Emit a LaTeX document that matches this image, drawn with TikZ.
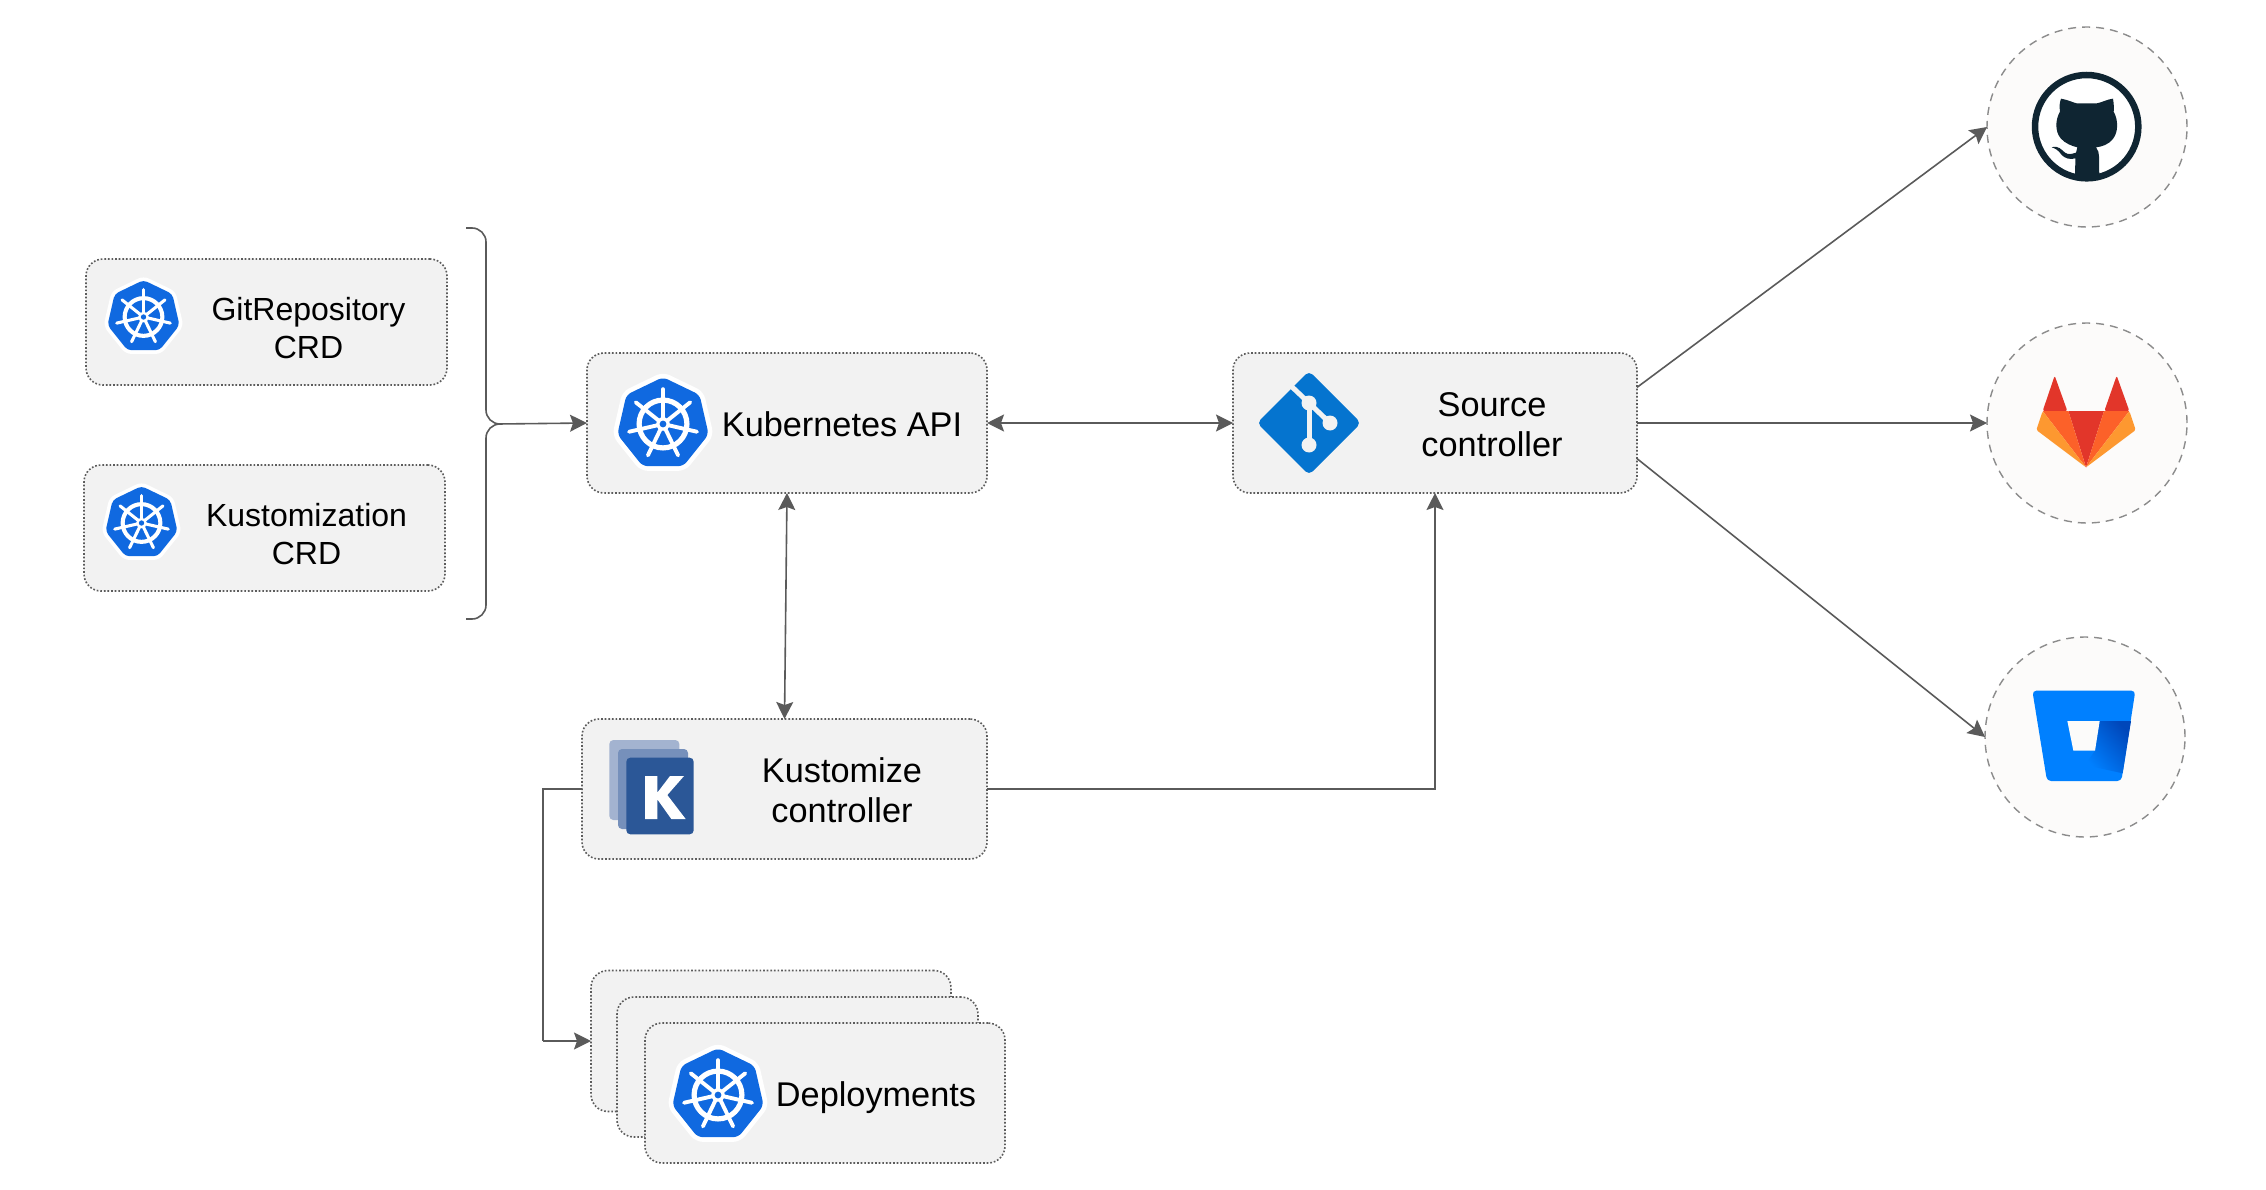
\documentclass[tikz,border=0pt]{standalone}
\usepackage{fontspec}
\setmainfont{Liberation Sans}
\usetikzlibrary{arrows.meta}
\definecolor{boxfill}{HTML}{F2F2F2}
\definecolor{dotline}{HTML}{5C5C5C}
\definecolor{arrowgray}{HTML}{5A5A5A}
\definecolor{ringfill}{HTML}{FCFBFA}
\definecolor{ringline}{HTML}{8C8C8C}
\definecolor{kubeblue}{HTML}{1069E0}
\definecolor{gitblue}{HTML}{0574CF}
\definecolor{ghdark}{HTML}{0F2532}
\definecolor{labred}{HTML}{E2362A}
\definecolor{laborange}{HTML}{FC6129}
\definecolor{labyellow}{HTML}{FD9830}
\definecolor{bbblue}{HTML}{0080FF}
\definecolor{bbdark}{HTML}{0047BA}
\definecolor{kustback}{HTML}{A3B3D0}
\definecolor{kustmid}{HTML}{7690BB}
\definecolor{kustfront}{HTML}{2B5797}
\tikzset{
  cardbox/.style={draw=dotline,fill=boxfill,line width=1.6pt,dash pattern=on 1.7pt off 1.9pt,
    rounded corners=17pt,inner sep=0pt,outer sep=0pt},
  repocircle/.style={circle,draw=ringline,fill=ringfill,line width=1.4pt,dash pattern=on 8pt off 6pt,
    minimum size=200pt,inner sep=0pt,outer sep=0pt},
  cardtext/.style={align=center,text=black,inner sep=0pt},
  crdtext/.style={cardtext,font=\fontsize{32}{38}\selectfont},
  conn/.style={draw=arrowgray,line width=1.6pt},
  arr/.style={conn,-{Stealth[length=17pt,width=17pt,inset=3pt]}},
  biarr/.style={conn,{Stealth[length=17pt,width=17pt,inset=3pt]}-{Stealth[length=17pt,width=17pt,inset=3pt]}},
  zoomgrid/.style={x=0.33333pt,y=-0.33333pt}
}
\newcommand{\kubelogo}[2]{
  \begin{scope}[shift={#1},x=#2pt,y=#2pt]
    \fill[white,rounded corners=0.14*#2] (90:1)--(141.43:1)--(192.86:1)--(244.29:1)--(295.71:1)--(347.14:1)--(38.57:1)--cycle;
    \fill[kubeblue,rounded corners=0.1*#2] (90:0.9)--(141.43:0.9)--(192.86:0.9)--(244.29:0.9)--(295.71:0.9)--(347.14:0.9)--(38.57:0.9)--cycle;
    \draw[white,line width=0.1*#2] (0,0) circle (0.46);
    \foreach \a in {90,141.43,192.86,244.29,295.71,347.14,38.57}
      \draw[white,line width=0.075*#2,line cap=round] (0,0)--(\a:0.67);
    \fill[white] (0,0) circle (0.13);
    \fill[kubeblue] (0,0) circle (0.065);
  \end{scope}
}
\begin{document}
\begin{tikzpicture}[x=1pt,y=-1pt,font=\fontsize{34.3}{40}\selectfont]
\useasboundingbox (0,0) rectangle (2266,1190);

\node[cardbox,minimum width=361pt,minimum height=126pt] (gitcrd) at (266.5,322) {};
\node[cardbox,minimum width=361pt,minimum height=126pt] (kustcrd) at (264.5,528) {};
\node[cardbox,minimum width=400pt,minimum height=140pt] (api) at (787,423) {};
\node[cardbox,minimum width=404pt,minimum height=140pt] (source) at (1435,423) {};
\node[cardbox,minimum width=405pt,minimum height=140pt] (kustomize) at (784.5,789) {};
\node[cardbox,minimum width=360pt,minimum height=141pt] (depback) at (771,1041) {};
\node[cardbox,minimum width=361pt,minimum height=140pt] (depmid) at (797.5,1067) {};
\node[cardbox,minimum width=360pt,minimum height=140pt] (depfront) at (825,1093) {};

\node[crdtext] (gitcrdtext) at (308.5,328) {GitRepository\\CRD};
\node[crdtext] (kustcrdtext) at (306.5,534) {Kustomization\\CRD};
\node[cardtext] (apitext) at (842,424) {Kubernetes API};
\node[cardtext] (sourcetext) at (1492,425) {Source\\controller};
\node[cardtext] (kustomizetext) at (842,790) {Kustomize\\controller};
\node[cardtext] (deptext) at (876,1098) {Deployments};

\kubelogo{(143.5,317)}{41}
\kubelogo{(141.5,523)}{41}
\kubelogo{(663,424)}{52}
\kubelogo{(718,1095)}{52}

\fill[gitblue,rounded corners=5pt] (1309,371)--(1361,423)--(1309,475)--(1257,423)--cycle;
\draw[draw=boxfill,line width=5pt] (1290,385)--(1309,403)--(1330,423);
\draw[draw=boxfill,line width=5pt] (1309,403)--(1309,445);
\fill[boxfill] (1309,403) circle (7.5) (1330,423) circle (7.5) (1309,445) circle (7.5);

\begin{scope}[shift={(530,710)},zoomgrid]
\fill[kustback,rounded corners=4pt] (238,90) rectangle (448,330);
\fill[kustmid,rounded corners=4pt] (264,117) rectangle (474,357);
\fill[kustfront,rounded corners=4pt] (289,143) rectangle (491,373);
\fill[white] (345,198)--(382,198)--(382,248)--(420,198)--(462,198)--(412,255)--(467,327)--(424,327)--(382,268)--(382,327)--(345,327)--cycle;
\end{scope}

\node[repocircle] (github) at (2087,127) {};
\node[repocircle] (gitlab) at (2087,423) {};
\node[repocircle] (bitbucket) at (2085,737) {};

\begin{scope}[shift={(1970,10)},zoomgrid]
\fill[white] (350,350) circle (150);
\begin{scope}
\clip (350,350) circle (155);
\fill[ghdark] (273,266) .. controls (295,270) and (310,278) .. (320,280) -- (380,280)
  .. controls (395,278) and (410,268) .. (429,266) .. controls (432,285) and (432,295) .. (431,305)
  .. controls (445,330) and (445,365) .. (430,385) .. controls (415,405) and (395,410) .. (378,412)
  .. controls (385,420) and (387,430) .. (387,440) -- (388,510) -- (315,510) -- (316,445)
  .. controls (300,450) and (285,445) .. (275,435) .. controls (265,420) and (255,415) .. (245,412)
  .. controls (265,405) and (275,420) .. (285,428) .. controls (295,435) and (305,432) .. (318,428)
  -- (322,412) .. controls (305,408) and (285,400) .. (272,385) .. controls (255,365) and (255,330) .. (270,305)
  .. controls (268,290) and (268,280) .. (273,266) -- cycle;
\end{scope}
\draw[ghdark,line width=6.5pt] (350,350) circle (155);
\end{scope}

\begin{scope}[shift={(1970,310)},zoomgrid]
\fill[labred,rounded corners=2pt] (218,303)--(254,197)--(292,303)--cycle;
\fill[labred,rounded corners=2pt] (403,303)--(440,197)--(478,303)--cycle;
\fill[labred] (295,303)--(402,303)--(348,472)--cycle;
\fill[laborange] (218,303)--(295,303)--(348,472)--cycle;
\fill[laborange] (402,303)--(478,303)--(348,472)--cycle;
\fill[labyellow,rounded corners=1.5pt] (218,303)--(348,472)--(199,360)--cycle;
\fill[labyellow,rounded corners=1.5pt] (478,303)--(497,360)--(348,472)--cycle;
\end{scope}

\begin{scope}[shift={(1970,625)},zoomgrid]
\fill[bbblue,rounded corners=4pt] (187,197)--(496,197)--(454,468)--(231,468)--cycle;
\shade[left color=bbblue,right color=bbdark,shading angle=130] (389,288)--(483,288)--(458,445)--(345,420)--(375,377)--cycle;
\fill[ringfill] (292,288)--(389,288)--(375,377)--(310,377)--cycle;
\end{scope}

\coordinate (bracetip) at (498,424);
\coordinate (depelbow) at (543,1041);
\draw[conn,rounded corners=14pt] (466,228)--(486,228)--(486,424)--(bracetip);
\draw[conn,rounded corners=14pt] (466,619)--(486,619)--(486,424)--(bracetip);
\draw[arr] (bracetip)--(api.west);
\draw[biarr] (api.east)--(source.west);
\draw[biarr] (api.south)--(kustomize.north);
\draw[arr] (kustomize.east)-|(source.south);
\draw[conn] (kustomize.west)-|(depelbow);
\draw[arr] (depelbow)--(depback.west);
\draw[arr] (source.10)--(github.west);
\draw[arr] (source.east)--(gitlab.west);
\draw[arr] (source.-10)--(bitbucket.west);

\end{tikzpicture}
\end{document}
